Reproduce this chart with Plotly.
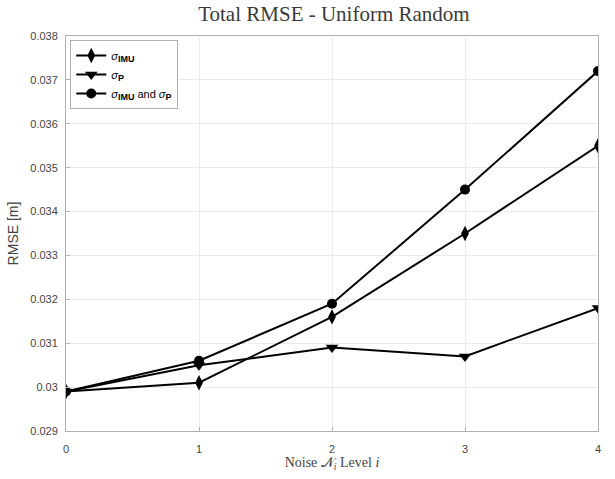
import plotly.graph_objects as go

# Noise level index on the x axis
noise_levels = [0, 1, 2, 3, 4]

# Total RMSE [m] per noise level
rmse_imu = [0.0299, 0.0301, 0.0316, 0.0335, 0.0355]
rmse_p = [0.0299, 0.0305, 0.0309, 0.0307, 0.0318]
rmse_both = [0.0299, 0.0306, 0.0319, 0.0345, 0.0372]

y_tick_vals = [0.029, 0.030, 0.031, 0.032, 0.033, 0.034, 0.035, 0.036, 0.037, 0.038]
y_tick_text = ["0.029", "0.03", "0.031", "0.032", "0.033", "0.034", "0.035", "0.036", "0.037", "0.038"]

sub_style = "font-size:9px"
series = [
    (f"<i>σ</i><sub><b><span style='{sub_style}'>IMU</span></b></sub>", rmse_imu, "diamond-tall", 11),
    (f"<i>σ</i><sub><b><span style='{sub_style}'>P</span></b></sub>", rmse_p, "triangle-down", 11),
    (f"<i>σ</i><sub><b><span style='{sub_style}'>IMU</span></b></sub> and <i>σ</i><sub><b><span style='{sub_style}'>P</span></b></sub>",
     rmse_both, "circle", 10),
]

fig = go.Figure()
for name, values, symbol, size in series:
    fig.add_trace(go.Scatter(
        x=noise_levels,
        y=values,
        name=name,
        mode="lines+markers",
        line=dict(color="black", width=2),
        marker=dict(symbol=symbol, size=size, color="black"),
    ))

axis_common = dict(
    showline=True,
    linecolor="#b0b0b0",
    linewidth=1,
    mirror=True,
    showgrid=True,
    gridcolor="#ececec",
    gridwidth=1,
    zeroline=False,
    ticks="inside",
    ticklen=4,
    tickcolor="#b0b0b0",
    tickfont=dict(family="Liberation Sans, Arial, sans-serif", size=11, color="#444444"),
)

fig.update_layout(
    width=615,
    height=479,
    margin=dict(l=62, r=17, t=36, b=43),
    paper_bgcolor="white",
    plot_bgcolor="white",
    title=dict(
        text="Total RMSE - Uniform Random",
        font=dict(family="Liberation Serif, Times New Roman, serif", size=21, color="#3a3a3a"),
        x=0.543,
        xanchor="center",
        y=0.972,
        yanchor="middle",
    ),
    xaxis=dict(
        range=[0, 4],
        tickvals=noise_levels,
        ticktext=[str(v) for v in noise_levels],
        ticklabelstandoff=8,
        title=dict(
            text="Noise 𝒩<sub><i>i</i></sub> Level <i>i</i>",
            font=dict(family="Liberation Serif, Times New Roman, serif", size=14, color="#444444"),
            standoff=2,
        ),
        **axis_common,
    ),
    yaxis=dict(
        range=[0.029, 0.038],
        tickvals=y_tick_vals,
        ticktext=y_tick_text,
        ticklabelstandoff=5,
        title=dict(
            text="RMSE [m]",
            font=dict(family="Liberation Sans, Arial, sans-serif", size=14, color="#444444"),
            standoff=8,
        ),
        **axis_common,
    ),
    showlegend=True,
    legend=dict(
        x=0.008,
        y=0.99,
        xanchor="left",
        yanchor="top",
        bgcolor="white",
        bordercolor="#b0b0b0",
        borderwidth=1,
        font=dict(family="Liberation Sans, Arial, sans-serif", size=11, color="black"),
        itemwidth=30,
        tracegroupgap=0,
    ),
)

fig.write_html("out.html")
